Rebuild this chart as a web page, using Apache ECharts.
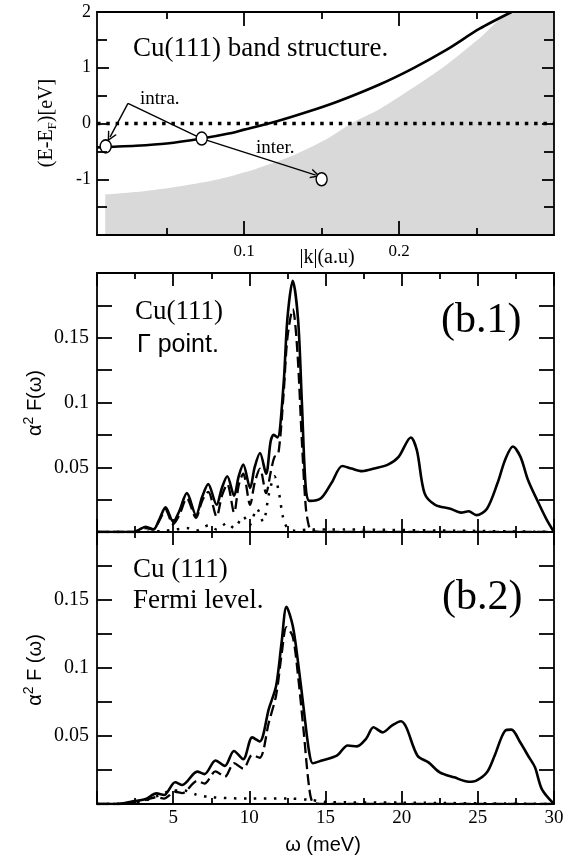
<!DOCTYPE html>
<html><head><meta charset="utf-8">
<script src="https://cdn.jsdelivr.net/npm/echarts@6/dist/echarts.min.js"></script>
<style>html,body{margin:0;padding:0;background:#fff}#c{width:574px;height:858px}</style>
</head><body><div id="c"></div>
<script>
// ---------- DATA ----------
// Panel (a): band structure, k in a.u., E-EF in eV
const bandCurve = [[0.005,-0.43],[0.0106,-0.42],[0.03,-0.40],[0.05,-0.36],[0.0726,-0.27],[0.09,-0.18],[0.1,-0.11],[0.12,0.03],[0.14,0.2],[0.16,0.39],[0.1874,0.70],[0.209,0.99],[0.2305,1.32],[0.252,1.70],[0.2726,2.0]];
const bulkEdge = [[0.0103,-1.27],[0.025,-1.24],[0.0363,-1.21],[0.06,-1.12],[0.0835,-1.0],[0.107,-0.82],[0.131,-0.58],[0.1545,-0.26],[0.169,0],[0.187,0.25],[0.209,0.64],[0.2305,1.05],[0.252,1.53],[0.2735,2.0],[0.3,2.0]];
const fermiLevel = [[0.005,0],[0.3,0]];
const transitionPoints = [[0.0106,-0.41],[0.0726,-0.27],[0.15,-1.0]];
const intraApexToCircle = [[0.025,0.36],[0.0726,-0.27]];
const intraArrow = [[0.025,0.36],[0.0134,-0.245]];
const interArrow = [[0.0726,-0.27],[0.1462,-0.925]];
const kRange = [0.005, 0.3];
const eRange = [-2, 2];
const kMajorTicks = [0.1,0.2];
const kMinorTicks = [0.05,0.15,0.25];
const kTickLabels = ['0.1','0.2'];
const eTickLabels = ['2','1','0','-1'];

// Panel (b.1): Gamma point, omega (meV) vs alpha^2F
const gammaSolid = [[0,0],[2.4,0],[2.8,0.002],[3.2,0.004],[3.7,0.002],[4.1,0.01],[4.5,0.019],[5.0,0.008],[5.4,0.016],[5.9,0.030],[6.5,0.013],[6.9,0.027],[7.3,0.037],[7.85,0.021],[8.2,0.034],[8.55,0.043],[9.0,0.028],[9.3,0.043],[9.6,0.052],[10.05,0.034],[10.35,0.05],[10.7,0.061],[11.1,0.045],[11.4,0.07],[11.6,0.075],[11.85,0.073],[12.24,0.113],[12.5,0.165],[12.85,0.194],[13.2,0.164],[13.45,0.10],[13.7,0.035],[13.95,0.024],[14.7,0.026],[15.4,0.038],[16.1,0.051],[16.7,0.049],[17.4,0.047],[18.2,0.049],[19.1,0.052],[19.8,0.058],[20.6,0.073],[21.0,0.063],[21.5,0.03],[22.2,0.021],[23.2,0.018],[23.9,0.015],[24.4,0.016],[24.9,0.013],[25.6,0.018],[26.3,0.038],[26.8,0.056],[27.3,0.066],[27.8,0.058],[28.3,0.04],[29.0,0.022],[29.5,0.01],[30,0]];
const gammaDashed = [[0,0],[2.5,0],[3.2,0.003],[3.7,0.002],[4.1,0.009],[4.5,0.017],[5.0,0.006],[5.4,0.013],[5.9,0.026],[6.5,0.011],[6.9,0.024],[7.3,0.031],[7.85,0.012],[8.2,0.028],[8.55,0.037],[9.0,0.015],[9.3,0.036],[9.6,0.045],[10.05,0.021],[10.35,0.038],[10.7,0.049],[11.1,0.030],[11.4,0.046],[11.65,0.058],[11.9,0.06],[12.24,0.105],[12.5,0.15],[12.85,0.172],[13.15,0.14],[13.45,0.07],[13.7,0.02],[13.9,0.005],[14.1,0.001],[15,0],[30,0]];
const gammaDotted = [[0,0],[3,0],[4.5,0.001],[5.2,0.002],[5.9,0.003],[6.5,0.001],[7.3,0.005],[7.85,0.002],[8.55,0.007],[9.0,0.003],[9.6,0.012],[10.0,0.005],[10.5,0.018],[10.9,0.008],[11.3,0.03],[11.65,0.043],[11.95,0.03],[12.2,0.012],[12.5,0.003],[13.0,0.001],[14,0.002],[30,0]];

// Panel (b.2): Fermi level
const fermiSolid = [[0,0],[1.3,0],[2.24,0.0017],[3.2,0.0037],[3.9,0.0078],[4.4,0.0066],[5.13,0.016],[5.6,0.014],[6.58,0.0238],[7.06,0.022],[7.78,0.032],[8.39,0.028],[8.99,0.039],[9.6,0.033],[10.19,0.049],[10.68,0.046],[11.28,0.07],[11.76,0.087],[12.12,0.119],[12.44,0.145],[12.85,0.131],[13.2,0.104],[13.57,0.07],[13.93,0.038],[14.17,0.030],[14.77,0.032],[15.74,0.0355],[16.46,0.043],[17.06,0.0424],[17.67,0.048],[18.15,0.0564],[18.75,0.0527],[19.35,0.0576],[19.95,0.0608],[20.3,0.0564],[21.04,0.0355],[21.76,0.0306],[22.5,0.0233],[23.45,0.0196],[24.4,0.0164],[24.9,0.0172],[25.6,0.0233],[26.1,0.0355],[26.8,0.054],[27.2,0.0547],[27.8,0.045],[28.3,0.0355],[28.75,0.027],[29.2,0.011],[30,0]];
const fermiDashed = [[0,0],[1.5,0],[2.2,0.0012],[3.2,0.003],[3.9,0.005],[4.4,0.004],[5.13,0.009],[5.6,0.008],[6.58,0.017],[7.06,0.015],[7.78,0.024],[8.39,0.02],[8.99,0.03],[9.6,0.026],[10.19,0.036],[10.68,0.034],[11.28,0.06],[11.76,0.08],[12.12,0.11],[12.44,0.13],[12.85,0.123],[13.2,0.094],[13.57,0.053],[13.93,0.012],[14.2,0.001],[15,0],[30,0]];
const fermiDotted = [[0,0],[2,0.0005],[3,0.002],[4,0.006],[5,0.01],[5.7,0.01],[6.5,0.007],[7.5,0.005],[10,0.004],[12.5,0.004],[14,0.003],[15,0.0015],[20,0.001],[30,0]];
const fTickLabels = ['0.05','0.1','0.15'];
const wTickLabels = ['5','10','15','20','25','30'];

// ---------- CHART ----------
const SERIF = 'Liberation Serif';
const SANS = 'Liberation Sans';
const K = '#000';
const TW = 1.8;
function pick(list){ return v => { const s = String(+(+v).toFixed(3)); return list.includes(s) ? s : ''; }; }
const line15 = {show:true, onZero:false, lineStyle:{color:K, width:1.8}};
const tk = (len) => ({show:true, inside:true, length:len, lineStyle:{color:K, width:TW}});
const noLabel = {show:false};
const noSplit = {show:false};

function kAxis(position, withLabel){
  return {gridIndex:0, type:'value', position, min:kRange[0], max:kRange[1], z:10,
    axisLine: line15, axisTick:{show:false},
    axisLabel: withLabel ? {show:true, customValues:kMajorTicks, formatter: pick(kTickLabels), color:K, fontFamily:SERIF, fontSize:17, margin:8} : noLabel,
    splitLine: noSplit};
}
function wAxis(grid, position, withLabel){
  return {gridIndex:grid, type:'value', position, min:0, max:30, interval:5, z:10,
    axisLine: line15, axisTick: tk(13),
    minorTick:{show:true, splitNumber:2, length:6, lineStyle:{color:K, width:TW}},
    axisLabel: withLabel ? {show:true, formatter: pick(wTickLabels), color:K, fontFamily:SERIF, fontSize:19, margin:5} : noLabel,
    splitLine: noSplit, minorSplitLine:{show:false}};
}
function fAxis(grid, position, withLabel){
  return {gridIndex:grid, type:'value', position, min:0, max:0.2, interval:0.025, z:10,
    axisLine: line15, axisTick: tk(15),
    axisLabel: withLabel ? {show:true, formatter: pick(fTickLabels), color:K, fontFamily:SERIF, fontSize:20, margin:8} : noLabel,
    splitLine: noSplit};
}
function eAxis(position, withLabel){
  return {gridIndex:0, type:'value', position, min:eRange[0], max:eRange[1], interval:1, z:10,
    axisLine: line15, axisTick: tk(12),
    minorTick:{show:true, splitNumber:2, length:10, lineStyle:{color:K, width:TW}},
    axisLabel: withLabel ? {show:true, formatter: pick(eTickLabels), color:K, fontFamily:SERIF, fontSize:18, margin:6} : noLabel,
    splitLine: noSplit, minorSplitLine:{show:false}};
}
function curve(data, xi, yi, type, width){
  return {type:'line', xAxisIndex:xi, yAxisIndex:yi, data, showSymbol:false, symbol:'none', smooth:0.3,
    lineStyle:{color:K, width, type, cap:'butt'}, z:3, silent:true};
}
// inward tick marks for the k axis of panel (a): short segments drawn through the axis scale
// (tick length expressed as a fraction of the energy range: 14px and 7px of a 223px-high plot)
function kTicks(values, edge, frac){
  const d = (eRange[1]-eRange[0]) * frac * (edge === eRange[0] ? 1 : -1);
  return {type:'lines', coordinateSystem:'cartesian2d', xAxisIndex:0, yAxisIndex:0, polyline:false, silent:true, z:11,
    symbol:['none','none'], lineStyle:{color:K, width:TW, opacity:1, curveness:0},
    data: values.map(v => ({coords:[[v, edge],[v, edge + d]]}))};
}
const chevron = 'path://M0,10 L5,0 L10,10 L8.4,10 L5,3.2 L1.6,10 Z';

const option = {
  animation:false,
  backgroundColor:'#fff',
  textStyle:{fontFamily:SERIF},
  grid:[
    {left:97, top:12, width:457, height:223, outerBoundsMode:'none'},
    {left:97, top:273, width:457, height:259, outerBoundsMode:'none'},
    {left:97, top:532, width:457, height:272, outerBoundsMode:'none'}
  ],
  xAxis:[
    kAxis('bottom', true),
    kAxis('top', false),
    wAxis(1,'bottom',false),
    wAxis(1,'top',false),
    wAxis(2,'bottom',true),
    wAxis(2,'top',false)
  ],
  yAxis:[
    eAxis('left', true), eAxis('right', false),
    fAxis(1,'left',true), fAxis(1,'right',false),
    fAxis(2,'left',true), fAxis(2,'right',false)
  ],
  series:[
    {type:'line', xAxisIndex:0, yAxisIndex:0, data:bulkEdge, showSymbol:false, symbol:'none', smooth:0.25,
      lineStyle:{width:0}, areaStyle:{color:'#d9d9d9', opacity:1, origin:'start'}, z:1, silent:true},
    {type:'line', xAxisIndex:0, yAxisIndex:0, data:fermiLevel, showSymbol:false, symbol:'none',
      lineStyle:{color:K, width:3.5, type:[3.5,5.8], cap:'butt'}, z:2, silent:true},
    curve(bandCurve, 0, 0, 'solid', 2.6),
    {type:'lines', coordinateSystem:'cartesian2d', xAxisIndex:0, yAxisIndex:0, polyline:false,
      symbol:['none','none'], lineStyle:{color:K, width:1.4, opacity:1, curveness:0},
      data:[{coords:intraApexToCircle}], z:4, silent:true},
    {type:'lines', coordinateSystem:'cartesian2d', xAxisIndex:0, yAxisIndex:0, polyline:false,
      symbol:['none', chevron], symbolSize:[8,10], lineStyle:{color:K, width:1.4, opacity:1, curveness:0},
      data:[{coords:intraArrow},{coords:interArrow}], z:4, silent:true},
    {type:'scatter', xAxisIndex:0, yAxisIndex:0, data:transitionPoints, symbol:'circle', symbolSize:[11,13],
      itemStyle:{color:'#fff', borderColor:K, borderWidth:1.5, opacity:1}, z:6, silent:true},
    kTicks(kMajorTicks, eRange[0], 14/223),
    kTicks(kMinorTicks, eRange[0], 7/223),
    kTicks(kMajorTicks, eRange[1], 14/223),
    kTicks(kMinorTicks, eRange[1], 7/223),

    curve(gammaDotted, 2, 2, [2.5,7.5], 2.5),
    curve(gammaDashed, 2, 2, [11,5], 2.3),
    curve(gammaSolid, 2, 2, 'solid', 2.6),

    curve(fermiDotted, 4, 4, [2.5,7.5], 2.5),
    curve(fermiDashed, 4, 4, [11,5], 2.3),
    curve(fermiSolid, 4, 4, 'solid', 2.6)
  ],
  graphic:[
    {type:'text', x:133, y:49, style:{text:'Cu(111) band structure.', font:'27px '+SERIF, fill:K, textAlign:'left', textVerticalAlign:'middle'}},
    {type:'text', x:473, y:77, style:{text:'(a)', font:'40px '+SERIF, fill:K, textAlign:'left', textVerticalAlign:'middle'}},
    {type:'text', x:532, y:214, style:{text:'Bulk bands.', font:'20px '+SERIF, fill:K, textAlign:'right', textVerticalAlign:'middle'}},
    {type:'text', x:140, y:99, style:{text:'intra.', font:'19px '+SERIF, fill:K, textAlign:'left', textVerticalAlign:'middle'}},
    {type:'text', x:256, y:148, style:{text:'inter.', font:'19px '+SERIF, fill:K, textAlign:'left', textVerticalAlign:'middle'}},
    {type:'text', x:327, y:258, style:{text:'|k|(a.u)', font:'20px '+SERIF, fill:K, textAlign:'center', textVerticalAlign:'middle'}},
    {type:'text', x:47, y:123, rotation:Math.PI/2, style:{text:'{a|(E-E}{b|F}{a|)[eV]}', textAlign:'center', textVerticalAlign:'middle',
      rich:{a:{font:'20px '+SERIF, fill:K, lineHeight:24}, b:{font:'13px '+SERIF, fill:K, lineHeight:13, verticalAlign:'bottom'}}}},

    {type:'text', x:135, y:312, style:{text:'Cu(111)', font:'27px '+SERIF, fill:K, textAlign:'left', textVerticalAlign:'middle'}},
    {type:'text', x:137, y:345, style:{text:'Γ point.', font:'25px '+SANS, fill:K, textAlign:'left', textVerticalAlign:'middle'}},
    {type:'text', x:441, y:321, style:{text:'(b.1)', font:'42px '+SERIF, fill:K, textAlign:'left', textVerticalAlign:'middle'}},
    {type:'text', x:35, y:403, rotation:Math.PI/2, style:{text:'{n|α}{s|2}{n| F(ω)}', textAlign:'center', textVerticalAlign:'middle',
      rich:{n:{font:'20px '+SANS, fill:K, lineHeight:26}, s:{font:'14px '+SANS, fill:K, lineHeight:14, verticalAlign:'top'}}}},

    {type:'text', x:133, y:570, style:{text:'Cu (111)', font:'27px '+SERIF, fill:K, textAlign:'left', textVerticalAlign:'middle'}},
    {type:'text', x:133, y:601, style:{text:'Fermi level.', font:'27px '+SERIF, fill:K, textAlign:'left', textVerticalAlign:'middle'}},
    {type:'text', x:442, y:598, style:{text:'(b.2)', font:'42px '+SERIF, fill:K, textAlign:'left', textVerticalAlign:'middle'}},
    {type:'text', x:35, y:670, rotation:Math.PI/2, style:{text:'{n|α}{s|2}{n| F (ω)}', textAlign:'center', textVerticalAlign:'middle',
      rich:{n:{font:'20px '+SANS, fill:K, lineHeight:26}, s:{font:'14px '+SANS, fill:K, lineHeight:14, verticalAlign:'top'}}}},
    {type:'text', x:323, y:845, style:{text:'ω (meV)', font:'20px '+SANS, fill:K, textAlign:'center', textVerticalAlign:'middle'}}
  ]
};
const chart = echarts.init(document.getElementById('c'), null, {renderer:'canvas'});
chart.setOption(option);
</script></body></html>
